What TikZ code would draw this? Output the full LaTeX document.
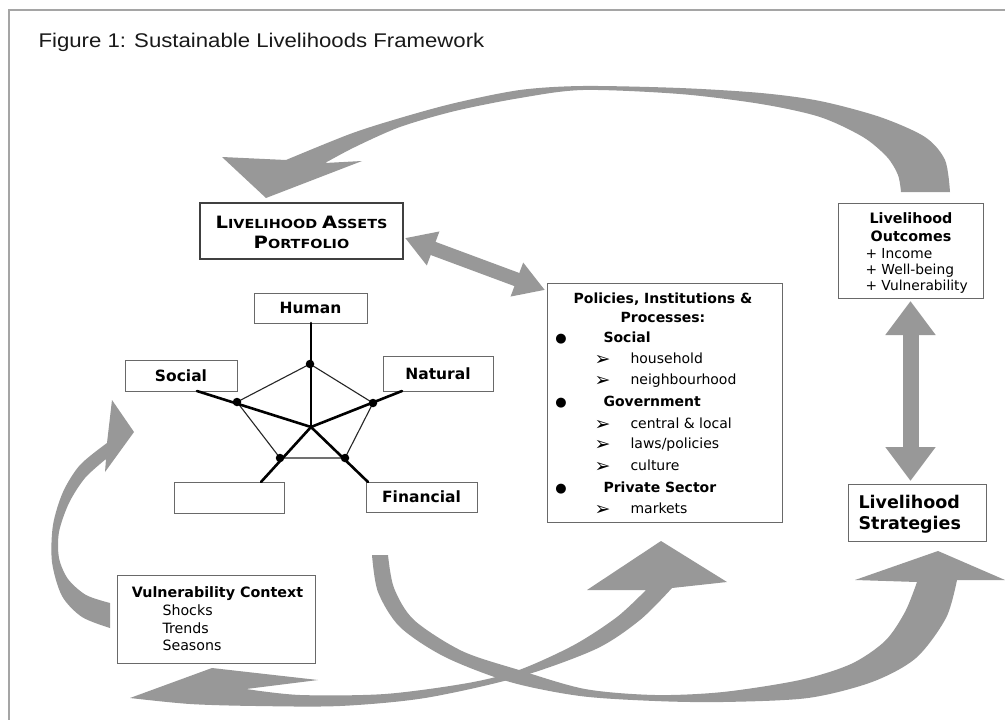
\documentclass[tikz,border=0pt]{standalone}
\usepackage{fontspec}
\setmainfont{DejaVu Sans}
\newfontfamily\titlefont[FakeStretch=1.12]{Liberation Sans}
\newfontfamily\scfont[FakeStretch=1.15]{DejaVu Sans}
\usetikzlibrary{arrows.meta}
\definecolor{arrowgray}{RGB}{152,152,152}
\definecolor{framegray}{RGB}{165,165,165}
\definecolor{boxgray}{RGB}{105,105,105}
\newcommand\scbig[1]{{\fontsize{17}{17}\selectfont #1}}
\newcommand\scsmall[1]{{\fontsize{12.5}{12.5}\selectfont #1}}
\newcommand\fs[1]{\fontsize{#1}{#1}\selectfont}

\tikzset{
  box/.style={draw=boxgray, line width=1pt, fill=white, inner sep=0pt, outer sep=0pt},
  gshape/.style={fill=arrowgray},
  spoke/.style={line width=2.6pt, black, line cap=round},
  pentedge/.style={line width=1.1pt, black!85},
  vdot/.style={circle, fill=black, inner sep=0pt, minimum size=8.5pt},
  dblarrow/.style={arrowgray, line width=#1},
  lab/.style={font=\bfseries\fs{15.5}},
  ptxt/.style={anchor=base west, font=\fs{14}},
  pbold/.style={anchor=base west, font=\bfseries\fs{14}},
  parrow/.style={anchor=base west, font=\fs{19}, yshift=-2pt},
  pbullet/.style={anchor=base, font=\fs{13}},
}

\begin{document}
\begin{tikzpicture}[x=1pt,y=-1pt]
\useasboundingbox (0,0) rectangle (1005,720);
\fill[white] (0,0) rectangle (1005,720);

% page frame
\draw[framegray, line width=1.2pt] (9,720) -- (9,10) -- (1005,10);

% title
\node[anchor=base west, font=\titlefont\fs{19.8}, text=black!90] (title) at (35,47)
  {Figure 1: Sustainable Livelihoods Framework};

% ---------- curved grey arrows ----------
% outcomes back to the asset portfolio (top arc)
\fill[gshape] (901,192) -- (950,192)
  -- plot[smooth] coordinates {(950,192) (945,160) (925,137) (880,117) (820,101) (761,93) (680,88) (583,86) (520,90) (455,103) (400,118) (350,134) (286,160)}
  -- (222,157) -- (266,198) -- (362,161) -- (325,163)
  -- plot[smooth] coordinates {(325,163) (355,147) (400,127) (455,111) (520,98) (583,90) (680,94) (761,104) (820,117) (863,137) (887,157) (898,175) (901,192)}
  -- cycle;

% vulnerability context up to the assets
\fill[gshape] (110,603) -- (110,628)
  -- plot[smooth] coordinates {(110,628) (82,617) (62,596) (52,562) (53,525) (63,492) (80,465) (107,443)}
  -- (112,400) -- (134,432) -- (105,472) -- (106,459)
  -- plot[smooth] coordinates {(106,459) (85,478) (69,503) (59,532) (59,558) (68,579) (86,595) (110,603)}
  -- cycle;

% assets down and round to the strategies
\fill[gshape] (372,555) -- (388,555)
  -- plot[smooth] coordinates {(388,555) (394,588) (414,620) (462,651) (519,670) (585,689) (655,695) (723,692) (800,680) (851,664) (885,641) (905,612) (917,582)}
  -- (855,580) -- (938,551) -- (1005,580) -- (957,580)
  -- plot[smooth] coordinates {(957,580) (946,618) (916,658) (872,682) (808,698) (723,702) (655,701) (580,696) (510,682) (445,657) (400,627) (378,592) (372,555)}
  -- cycle;

% vulnerability <-> policies, institutions & processes
\fill[gshape] (130,698) -- (212,668) -- (318,680) -- (246,689)
  -- plot[smooth] coordinates {(246,689) (300,695) (385,694) (468,683) (519,670) (574,645) (617,617) (646,590)}
  -- (587,590) -- (661,541) -- (727,582) -- (672,588)
  -- plot[smooth] coordinates {(672,588) (640,620) (596,649) (519,677) (425,698) (340,706) (256,706) (190,704) (130,698)}
  -- cycle;

% ---------- boxes ----------
\node[box, draw=black!75, line width=1.8pt, minimum width=203pt, minimum height=56pt] (assets) at (301.5,231) {};
\node[anchor=base, font=\scfont\bfseries\fs{12.5}] (assets1) at (301.5,228)
  {\scbig{L}\scsmall{IVELIHOOD} \scbig{A}\scsmall{SSETS}};
\node[anchor=base, font=\scfont\bfseries\fs{12.5}] (assets2) at (301.5,248)
  {\scbig{P}\scsmall{ORTFOLIO}};

\node[box, minimum width=235pt, minimum height=239pt] (policies) at (664.5,402.5) {};
\node[anchor=base, font=\bfseries\fs{14}] (ph1) at (663,303) {Policies, Institutions \&};
\node[anchor=base, font=\bfseries\fs{14}] (ph2) at (663,322) {Processes:};
\node[pbullet] (b1) at (561,342) {●};
\node[pbold] (p1) at (600,342) {Social};
\node[parrow] (a1) at (591,363) {➢};
\node[ptxt] (p2) at (627,363) {household};
\node[parrow] (a2) at (591,384) {➢};
\node[ptxt] (p3) at (627,384) {neighbourhood};
\node[pbullet] (b2) at (561,406) {●};
\node[pbold] (p4) at (600,406) {Government};
\node[parrow] (a3) at (591,428) {➢};
\node[ptxt] (p5) at (627,428) {central \& local};
\node[parrow] (a4) at (591,448) {➢};
\node[ptxt] (p6) at (627,448) {laws/policies};
\node[parrow] (a5) at (591,470) {➢};
\node[ptxt] (p7) at (627,470) {culture};
\node[pbullet] (b3) at (561,492) {●};
\node[pbold] (p8) at (600,492) {Private Sector};
\node[parrow] (a6) at (591,513) {➢};
\node[ptxt] (p9) at (627,513) {markets};

\node[box, minimum width=145pt, minimum height=95pt] (outcomes) at (910.5,250.5) {};
\node[anchor=base, font=\bfseries\fs{14.3}] (o1) at (911,223) {Livelihood};
\node[anchor=base, font=\bfseries\fs{14.3}] (o2) at (911,241) {Outcomes};
\node[anchor=base west, font=\fs{13.8}] (o3) at (862,258) {+ Income};
\node[anchor=base west, font=\fs{13.8}] (o4) at (862,274) {+ Well-being};
\node[anchor=base west, font=\fs{13.8}] (o5) at (862,290) {+ Vulnerability};

\node[box, minimum width=138pt, minimum height=57pt] (strategies) at (917,512.5) {};
\node[anchor=base west, font=\bfseries\fs{17.5}] (s1) at (855,508) {Livelihood};
\node[anchor=base west, font=\bfseries\fs{17.5}] (s2) at (855,529) {Strategies};

\node[box, minimum width=198pt, minimum height=88pt] (vuln) at (216,619) {};
\node[anchor=base, font=\bfseries\fs{14.3}] (v0) at (217.5,597) {Vulnerability Context};
\node[anchor=base west, font=\fs{14.2}] (v1) at (159,615) {Shocks};
\node[anchor=base west, font=\fs{14.2}] (v2) at (159,633) {Trends};
\node[anchor=base west, font=\fs{14.2}] (v3) at (159,650) {Seasons};

% ---------- straight double arrows ----------
\draw[dblarrow=14pt, {Triangle[length=30pt,width=34pt]}-{Triangle[length=30pt,width=34pt]}]
  ([shift={(2pt,-7pt)}]assets.east) -- ([shift={(-2pt,-7pt)}]policies.north west);
\draw[dblarrow=16pt, {Triangle[length=34pt,width=48pt]}-{Triangle[length=34pt,width=48pt]}]
  ([yshift=-3pt]outcomes.south) -- ([yshift=3pt]outcomes.south |- strategies.north);

% ---------- asset pentagon ----------
\node[box, minimum width=113pt, minimum height=30pt, lab] (human) at (310.5,308) {Human};
\node[box, minimum width=112pt, minimum height=31pt, lab] (social) at (181,375.5) {Social};
\node[box, minimum width=110pt, minimum height=35pt, lab] (natural) at (438,373.5) {Natural};
\node[box, minimum width=110pt, minimum height=31pt] (physical) at (229,497.5) {};
\node[box, minimum width=111pt, minimum height=30pt, lab] (financial) at (421.5,497) {Financial};

\coordinate (C) at (311,427);
\coordinate (vT) at (310,364);
\coordinate (vL) at (237,402);
\coordinate (vR) at (373,403);
\coordinate (vBL) at (280,458);
\coordinate (vBR) at (345,458);

\draw[pentedge] (vT) -- (vR) -- (vBR) -- (vBL) -- (vL) -- cycle;
\draw[spoke] (C) -- (C |- human.south);
\draw[spoke] (C) -- (197,391);
\draw[spoke] (C) -- (402,391);
\draw[spoke] (C) -- (261,482);
\draw[spoke] (C) -- (368,482);
\foreach \v in {vT,vL,vR,vBL,vBR} \node[vdot] at (\v) {};

\end{tikzpicture}
\end{document}
